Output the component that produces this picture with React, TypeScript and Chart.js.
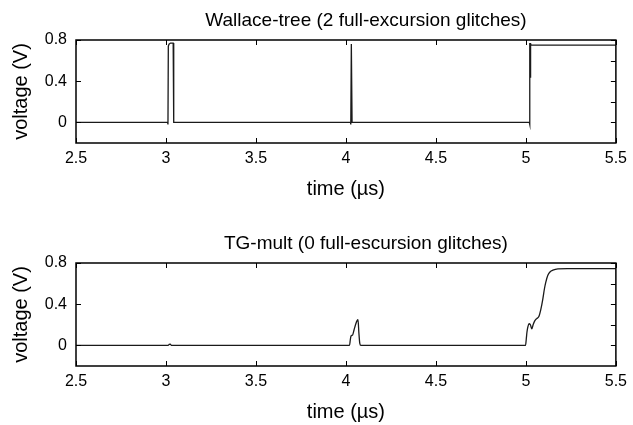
import React, { useEffect, useRef } from "react";
import { Chart, registerables } from "chart.js";

Chart.register(...registerables);

// ---------- data ----------
const X_TICKS = [2.5, 3, 3.5, 4, 4.5, 5, 5.5];
const Y_LABEL_TICKS = [0, 0.4, 0.8];
const Y_MINOR_TICKS = [0.2, 0.6];

const TITLE_WALLACE = "Wallace-tree (2 full-excursion glitches)";
const TITLE_TG = "TG-mult (0 full-escursion glitches)";
const X_TITLE = "time (\u00b5s)";
const Y_TITLE = "voltage (V)";

const WALLACE_T = [
  2.5, 3.009, 3.011, 3.013, 3.017, 3.025, 3.04, 3.043, 3.046,
  4.025, 4.027, 4.03, 4.034, 4.037,
  5.019, 5.021, 5.022, 5.023, 5.024, 5.025, 5.026, 5.027, 5.028, 5.03, 5.5,
];
const WALLACE_V = [
  0, 0, -0.02, 0.74, 0.76, 0.77, 0.77, 0, 0,
  0, -0.02, 0.76, 0.0, 0,
  0, -0.02, 0.77, 0.44, 0.77, 0.45, 0.77, 0.46, 0.76, 0.75, 0.75,
];

const TG_T = [
  2.5, 3.012, 3.018, 3.024, 3.03, 3.04,
  4.02, 4.024, 4.028, 4.037, 4.045, 4.055, 4.062, 4.067, 4.072, 4.077, 4.083,
  4.998, 5.002, 5.006, 5.011, 5.017, 5.025, 5.033, 5.04, 5.05, 5.06, 5.072,
  5.083, 5.094, 5.103, 5.11, 5.122, 5.135, 5.15, 5.178, 5.23, 5.5,
];
const TG_V = [
  0, 0, 0.01, 0.012, 0, 0,
  0, 0.05, 0.09, 0.1, 0.15, 0.21, 0.24, 0.25, 0.12, 0.02, 0,
  0, 0.06, 0.13, 0.18, 0.21, 0.2, 0.16, 0.2, 0.24, 0.26, 0.28,
  0.35, 0.45, 0.55, 0.61, 0.68, 0.715, 0.73, 0.742, 0.745, 0.745,
];

// ---------- styling ----------
const FONT = "'Liberation Sans', Arial, Helvetica, sans-serif";
const W = 633;
const H = 202;

function makeConfig(title: string, ts: number[], vs: number[], smooth: boolean): any {
  const framePlugin = {
    id: "frameAndTitle",
    afterDatasetsDraw(chart: any) {
      const { ctx, chartArea: a, scales } = chart;
      const xs = scales.x;
      const ys = scales.y;
      const tl = 5;
      ctx.save();
      ctx.strokeStyle = "#000";
      ctx.lineWidth = 1;
      ctx.beginPath();
      for (const v of X_TICKS) {
        const px = Math.round(xs.getPixelForValue(v)) + 0.5;
        ctx.moveTo(px, a.top);
        ctx.lineTo(px, a.top + tl);
        ctx.moveTo(px, a.bottom);
        ctx.lineTo(px, a.bottom - tl);
      }
      for (const v of Y_LABEL_TICKS) {
        const py = Math.round(ys.getPixelForValue(v)) + 0.5;
        ctx.moveTo(a.left, py);
        ctx.lineTo(a.left + tl, py);
        ctx.moveTo(a.right, py);
        ctx.lineTo(a.right - tl, py);
      }
      for (const v of Y_MINOR_TICKS) {
        const py = Math.round(ys.getPixelForValue(v)) + 0.5;
        ctx.moveTo(a.right, py);
        ctx.lineTo(a.right - tl, py);
      }
      ctx.stroke();
      ctx.lineWidth = 1.5;
      ctx.strokeRect(a.left, a.top, a.right - a.left, a.bottom - a.top);
      ctx.fillStyle = "#000";
      ctx.font = `19px ${FONT}`;
      ctx.textAlign = "center";
      ctx.textBaseline = "middle";
      ctx.fillText(title, (a.left + a.right) / 2 + 20, a.top - 19);
      ctx.restore();
    },
  };

  return {
    type: "line",
    data: {
      datasets: [
        {
          data: ts.map((t, i) => ({ x: t, y: vs[i] })),
          borderColor: "#1a1a1a",
          borderWidth: 1.3,
          pointRadius: 0,
          fill: false,
          tension: 0,
          cubicInterpolationMode: smooth ? "monotone" : "default",
        },
      ],
    },
    options: {
      animation: false,
      responsive: false,
      maintainAspectRatio: false,
      layout: { padding: { top: 40, right: 17, left: 0, bottom: 0 } },
      plugins: {
        legend: { display: false },
        tooltip: { enabled: false },
        title: { display: false },
      },
      scales: {
        x: {
          type: "linear",
          min: 2.5,
          max: 5.5,
          grid: { display: false, drawTicks: false },
          border: { display: false },
          afterBuildTicks: (s: any) => {
            s.ticks = X_TICKS.map((v) => ({ value: v }));
          },
          afterFit: (s: any) => {
            s.height = H - 143;
          },
          ticks: {
            font: { family: FONT, size: 16 },
            color: "#000",
            padding: 6,
            maxRotation: 0,
            callback: (v: any) => String(v),
          },
          title: {
            display: true,
            text: X_TITLE,
            font: { family: FONT, size: 20 },
            color: "#000",
            padding: { top: 0, bottom: 1 },
          },
        },
        y: {
          type: "linear",
          min: -0.2,
          max: 0.8,
          grid: { display: false, drawTicks: false },
          border: { display: false },
          afterBuildTicks: (s: any) => {
            s.ticks = Y_LABEL_TICKS.map((v) => ({ value: v }));
          },
          afterFit: (s: any) => {
            s.width = 76;
          },
          ticks: {
            font: { family: FONT, size: 16 },
            color: "#000",
            padding: 9,
            callback: (v: any) => String(v),
          },
          title: {
            display: true,
            text: Y_TITLE,
            font: { family: FONT, size: 20 },
            color: "#000",
            padding: { top: 9, bottom: 0 },
          },
        },
      },
    },
    plugins: [framePlugin],
  };
}

function Panel(props: { title: string; ts: number[]; vs: number[]; smooth: boolean; top: number }) {
  const ref = useRef<HTMLCanvasElement | null>(null);
  useEffect(() => {
    if (!ref.current) return;
    const chart = new Chart(ref.current, makeConfig(props.title, props.ts, props.vs, props.smooth));
    return () => chart.destroy();
  }, []);
  return (
    <canvas
      ref={ref}
      width={W}
      height={H}
      style={{ position: "absolute", left: 0, top: props.top, width: W, height: H, display: "block" }}
    />
  );
}

export default function App() {
  return (
    <div style={{ position: "absolute", left: 0, top: 0, width: W, height: 425, background: "#fff" }}>
      <Panel title={TITLE_WALLACE} ts={WALLACE_T} vs={WALLACE_V} smooth={false} top={0} />
      <Panel title={TITLE_TG} ts={TG_T} vs={TG_V} smooth={true} top={223} />
    </div>
  );
}
